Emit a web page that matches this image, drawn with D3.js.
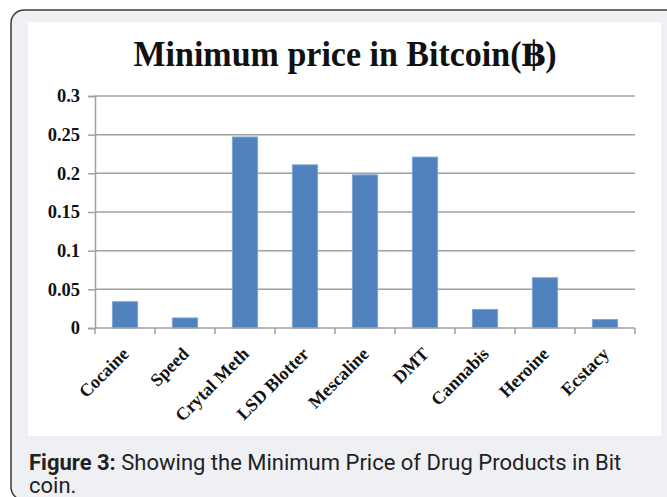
<!DOCTYPE html>
<html>
<head>
<meta charset="utf-8">
<script src="https://cdn.jsdelivr.net/npm/d3@7"></script>
<style>
  html, body { margin: 0; padding: 0; background: #ffffff; }
  svg { display: block; }
</style>
</head>
<body>
<svg id="chart" width="667" height="497"></svg>
<script>
// Minimum price of drug products, in Bitcoin
const categories = ["Cocaine", "Speed", "Crytal Meth", "LSD Blotter", "Mescaline", "DMT", "Cannabis", "Heroine", "Ecstacy"];
const minPrice = [0.034, 0.013, 0.247, 0.211, 0.198, 0.221, 0.024, 0.065, 0.011];
const yTicks = [0, 0.05, 0.1, 0.15, 0.2, 0.25, 0.3];
const yTickLabels = ["0", "0.05", "0.1", "0.15", "0.2", "0.25", "0.3"];
const titleText = "Minimum price in Bitcoin(\u0E3F)";
const captionBold = "Figure 3:";
const captionLine1 = " Showing the Minimum Price of Drug Products in Bit";
const captionLine2 = "coin.";

const svg = d3.select("#chart");

// Figure frame: rounded panel running off the right and bottom edges
svg.append("rect")
  .attr("x", 11).attr("y", 10)
  .attr("width", 700).attr("height", 490)
  .attr("rx", 13).attr("ry", 13)
  .attr("fill", "#eef0f3")
  .attr("stroke", "#3a3a3a")
  .attr("stroke-width", 1.5);

// White chart area
svg.append("rect")
  .attr("x", 28).attr("y", 22)
  .attr("width", 633).attr("height", 414)
  .attr("fill", "#ffffff");

const plot = { left: 95, right: 635, top: 96, bottom: 328 };

const x = d3.scaleBand()
  .domain(categories)
  .range([plot.left, plot.right])
  .paddingInner(0.58)
  .paddingOuter(0.29);

const xBound = d3.scaleLinear().domain([0, categories.length]).range([plot.left, plot.right]);

const y = d3.scaleLinear().domain([0, 0.3]).range([plot.bottom, plot.top]);

// Y axis
const yAxis = d3.axisLeft(y)
  .tickValues(yTicks)
  .tickFormat((d, i) => yTickLabels[i])
  .tickSize(7)
  .tickPadding(8);

const gy = svg.append("g")
  .attr("transform", `translate(${plot.left},0)`)
  .call(yAxis);
gy.select(".domain").attr("stroke", "#a0a0a0").attr("stroke-width", 1.5);
gy.selectAll(".tick line").attr("stroke", "#a0a0a0").attr("stroke-width", 1.5);
gy.selectAll(".tick text")
  .attr("font-family", "'Liberation Serif', 'Times New Roman', serif")
  .attr("font-weight", "bold")
  .attr("font-size", 18.5)
  .attr("fill", "#111");

// Horizontal gridlines
svg.append("g")
  .selectAll("line")
  .data(yTicks.filter(d => d > 0))
  .join("line")
  .attr("x1", plot.left).attr("x2", plot.right)
  .attr("y1", d => y(d)).attr("y2", d => y(d))
  .attr("stroke", "#a0a0a0")
  .attr("stroke-width", 1.5);

// Bars
svg.append("g")
  .selectAll("rect")
  .data(categories)
  .join("rect")
  .attr("x", d => x(d))
  .attr("y", (d, i) => y(minPrice[i]))
  .attr("width", x.bandwidth())
  .attr("height", (d, i) => y(0) - y(minPrice[i]))
  .attr("fill", "#4f81bd")
  .attr("stroke", "#7fa5d6")
  .attr("stroke-width", 1);

// X axis baseline with ticks on category boundaries
const gx = svg.append("g");
gx.append("line")
  .attr("x1", plot.left).attr("x2", plot.right)
  .attr("y1", plot.bottom).attr("y2", plot.bottom)
  .attr("stroke", "#a0a0a0").attr("stroke-width", 1.5);
gx.selectAll("line.tk")
  .data(d3.range(categories.length + 1))
  .join("line")
  .attr("class", "tk")
  .attr("x1", d => xBound(d)).attr("x2", d => xBound(d))
  .attr("y1", plot.bottom).attr("y2", plot.bottom + 6)
  .attr("stroke", "#a0a0a0").attr("stroke-width", 1.5);

// Rotated category labels
gx.selectAll("text")
  .data(categories)
  .join("text")
  .attr("transform", d => `translate(${x(d) + x.bandwidth() / 2 + 5},${plot.bottom + 27}) rotate(-45)`)
  .attr("text-anchor", "end")
  .attr("font-family", "'Liberation Serif', 'Times New Roman', serif")
  .attr("font-weight", "bold")
  .attr("font-size", 18)
  .attr("fill", "#111")
  .text(d => d);

// Title
svg.append("text")
  .attr("x", 345).attr("y", 66)
  .attr("text-anchor", "middle")
  .attr("font-family", "'Liberation Serif', 'DejaVu Serif', 'Times New Roman', serif")
  .attr("font-weight", "bold")
  .attr("font-size", 35)
  .attr("textLength", 423)
  .attr("lengthAdjust", "spacingAndGlyphs")
  .attr("fill", "#111")
  .text(titleText);

// Caption
const cap = svg.append("text")
  .attr("x", 29).attr("y", 470)
  .attr("font-family", "Roboto, 'Liberation Sans', Arial, sans-serif")
  .attr("font-size", 22)
  .attr("fill", "#222");
cap.append("tspan").attr("font-weight", "bold").text(captionBold);
cap.append("tspan").text(captionLine1);
svg.append("text")
  .attr("x", 29).attr("y", 493)
  .attr("font-family", "Roboto, 'Liberation Sans', Arial, sans-serif")
  .attr("font-size", 22)
  .attr("fill", "#222")
  .text(captionLine2);
</script>
</body>
</html>
